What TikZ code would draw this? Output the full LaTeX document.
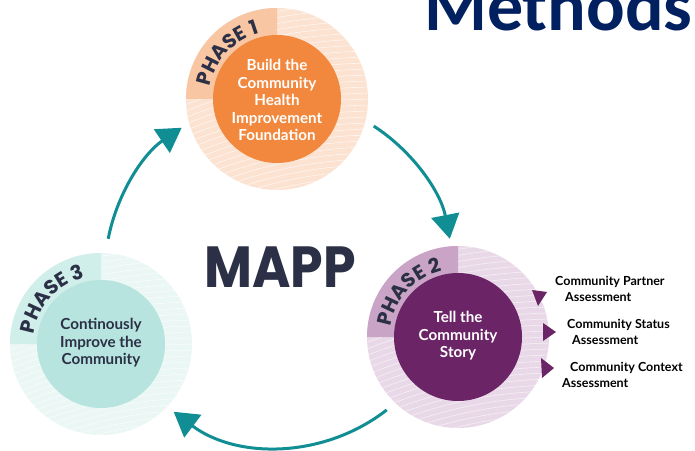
\documentclass[tikz,border=0pt]{standalone}
\usepackage{fontspec}
\usetikzlibrary{arrows.meta,decorations.text}
\setmainfont{Lato}
\newfontfamily\popfont{Poppins}
\newfontfamily\calfont{Carlito}
\definecolor{navy}{RGB}{43,48,70}
\definecolor{methc}{RGB}{0,32,96}
\definecolor{tealc}{RGB}{16,142,148}
\definecolor{oLight}{RGB}{252,226,209}
\definecolor{oDark}{RGB}{248,198,163}
\definecolor{oIn}{RGB}{242,136,62}
\definecolor{pLight}{RGB}{233,217,232}
\definecolor{pDark}{RGB}{201,164,199}
\definecolor{pIn}{RGB}{107,36,102}
\definecolor{gLight}{RGB}{234,247,245}
\definecolor{gDark}{RGB}{208,238,234}
\definecolor{gIn}{RGB}{183,228,222}
\tikzset{
  flow/.style={tealc, line width=3pt, -{Triangle[length=24pt,width=28pt]}},
  circtext/.style={align=center, inner sep=0pt, font=\bfseries\fontsize{15.2}{17.5}\selectfont},
  lbl/.style={anchor=west, inner sep=0pt, font=\bfseries\fontsize{12.5}{14}\selectfont, text=black},
  tri/.style={fill=pIn}
}
% #1 name, #2 x, #3 screen y, #4 light, #5 dark, #6 inner, #7 label, #8 stripe opacity
\newcommand\mkphase[8]{%
  \coordinate (#1) at (#2pt,{(450-#3)*1pt});
  \fill[#4] (#1) circle (91pt);
  \begin{scope}
    \clip (#1) circle (91pt);
    \foreach \r in {416,422,...,604}
      \draw[white, line width=0.6pt, opacity=#8] ([shift={(100pt,-500pt)}]#1) circle (\r pt);
  \end{scope}
  \fill[#5] (#1) -- ++(180:91pt) arc[start angle=180,end angle=90,radius=91pt] -- cycle;
  \fill[#6] (#1) circle (64pt);
  \path[decorate, decoration={text along path, text align=center,
     text={|\popfont\bfseries\fontsize{20}{20}\selectfont\color{navy}|#7}}]
     (#1) ++(180:68pt) arc[start angle=180,end angle=95,radius=68pt];
}
\begin{document}
\begin{tikzpicture}[x=1pt,y=1pt]
\useasboundingbox (0,0) rectangle (695,450);
\clip (0,0) rectangle (695,450);
\fill[white] (0,0) rectangle (695,450);

\mkphase{p1}{277}{99}{oLight}{oDark}{oIn}{PHASE 1}{0.7}
\mkphase{p2}{458}{337}{pLight}{pDark}{pIn}{PHASE 2}{0.6}
\mkphase{p3}{101}{344}{gLight}{gDark}{gIn}{PHASE 3}{0.7}

\node[circtext, text=white] (t1) at (277,{450-100}) {Build the\\Community\\Health\\Improvement\\Foundation};
\node[circtext, text=white] (t2) at (458,{450-336}) {Tell the\\Community\\Story};
\node[circtext, text=navy] (t3) at (101,{450-343}) {Continously\\Improve the\\Community};

\node[inner sep=0pt, text=navy, font=\popfont\bfseries\fontsize{58}{58}\selectfont] (mapp) at (280,{450-267.5}) {\scalebox{0.9}[1]{MAPP}};
\node[anchor=base west, inner sep=0pt, text=methc, font=\calfont\bfseries\fontsize{72}{72}\selectfont] (meth) at (424,{450-31}) {Methods};

% cycle arrows
\coordinate (o) at (279,{450-272});
\draw[flow] (o) ++(169:174pt) arc[start angle=169,end angle=124,radius=174pt];
\draw[flow] (o) ++(57:174pt) arc[start angle=57,end angle=11,radius=174pt];
\draw[flow] (o) ++(-52:175pt) arc[start angle=-52,end angle=-127,radius=175pt];

% purple markers
\fill[tri] (532,{450-290}) -- (547,{450-292}) -- (538,{450-306}) -- cycle;
\fill[tri] (543,{450-323}) -- (556,{450-332}) -- (543,{450-341}) -- cycle;
\fill[tri] (541,{450-358}) -- (554,{450-368}) -- (542,{450-378}) -- cycle;

% assessment labels
\node[lbl] (a1) at (555,{450-282}) {Community Partner};
\node[lbl] (a1b) at (565,{450-297}) {Assessment};
\node[lbl] (a2) at (567,{450-325}) {Community Status};
\node[lbl] (a2b) at (572,{450-340}) {Assessment};
\node[lbl] (a3) at (570,{450-368}) {Community Context};
\node[lbl] (a3b) at (562,{450-383}) {Assessment};
\end{tikzpicture}
\end{document}
